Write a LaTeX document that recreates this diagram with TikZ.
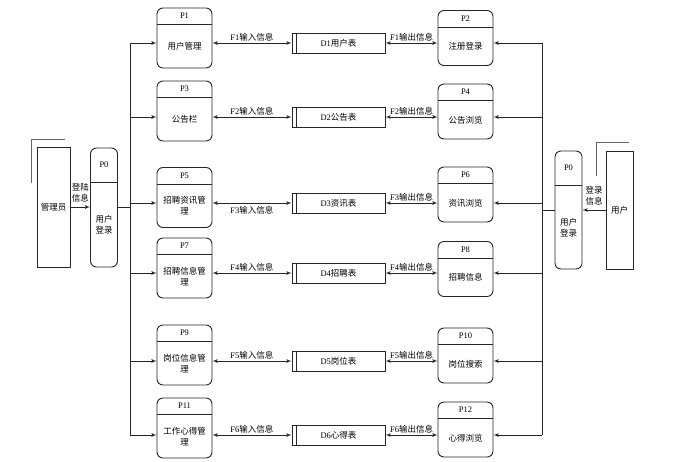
\documentclass[tikz,border=0pt]{standalone}
\usepackage{fontspec}
\setmainfont{Liberation Serif}
\newfontfamily\cjk{Noto Sans CJK SC}
\usetikzlibrary{arrows, positioning, calc}

\begin{document}
\begin{tikzpicture}[x=1pt, y=-1pt, >=latex', font=\fontsize{8.5}{11}\selectfont]
        \tikzstyle{proc_style} = [rectangle, rounded corners=6pt, minimum width=55pt, minimum height=60pt, draw=black!85, line width=0.9pt, inner sep=0pt]
        \tikzstyle{login_style} = [rectangle, rounded corners=6pt, minimum width=27pt, minimum height=119pt, draw=black!85, line width=0.9pt, inner sep=0pt]
        \tikzstyle{store_style} = [rectangle, minimum width=93pt, minimum height=20pt, draw=black!85, line width=1pt, inner sep=0pt, font=\fontsize{8.5}{11}\selectfont]
        \tikzstyle{ext_style} = [rectangle, minimum width=33pt, minimum height=120pt, draw=black!85, line width=0.9pt, inner sep=0pt, font=\fontsize{8.5}{11}\selectfont\cjk]
        \tikzstyle{text_style} = [inner sep=0pt, align=center, font=\fontsize{8.5}{11}\selectfont\cjk]
        \tikzstyle{title_style} = [inner sep=0pt]
        \tikzstyle{divider} = [draw=black!85, line width=0.9pt]
        \tikzstyle{shadow_line} = [draw=black!60, line width=1.6pt]
        \tikzstyle{flow} = [draw=black!85, line width=0.8pt]
        \tikzstyle{arrow_in} = [flow, ->]
        \tikzstyle{arrow_both} = [flow, <->]
        \tikzstyle{flow_label} = [inner sep=1pt]

        \useasboundingbox (0,0) rectangle (676,461);

        % External entities
        \node (admin) [ext_style] at (53.5,207) {管理员};
        \node (user) [ext_style, minimum width=27pt, minimum height=118pt] at (619.5,210) {用户};
        \draw [shadow_line] ([shift={(-5pt,-36pt)}]admin.north west) -- ++(0,-43) -- ++(33,0);
        \draw [shadow_line] ([shift={(-9pt,-25pt)}]user.north west) -- ++(0,-33) -- ++(32,0);

        % Login processes
        \node (p0l) [login_style] at (104,207.5) {};
        \draw [divider] ([yshift=-35pt]p0l.north west) -- ([yshift=-35pt]p0l.north east);
        \node (p0lt) [title_style] at ([yshift=-17.5pt]p0l.north) {P0};
        \node (p0lx) [text_style] at ([yshift=-17.5pt]p0l.center) {用户\\登录};

        \node (p0r) [login_style, minimum height=118pt] at (568.5,210) {};
        \draw [divider] ([yshift=-35pt]p0r.north west) -- ([yshift=-35pt]p0r.north east);
        \node (p0rt) [title_style] at ([yshift=-17.5pt]p0r.north) {P0};
        \node (p0rx) [text_style] at ([yshift=-17.5pt]p0r.center) {用户\\登录};

        \draw [arrow_in] (admin.east) -- node[above, text_style, inner sep=4pt] {登陆\\信息} (p0l.west |- admin.east);
        \draw [arrow_in] (user.west) -- node[above, text_style, inner sep=4pt] {登录\\信息} (p0r.east |- user.west);

        % Left processes
        \node (p1) [proc_style] at (184.5,38) {};
        \node (p3) [proc_style] at (184.5,111) {};
        \node (p5) [proc_style] at (184.5,197.5) {};
        \node (p7) [proc_style] at (184.5,268) {};
        \node (p9) [proc_style] at (184.5,355) {};
        \node (p11) [proc_style] at (184.5,428) {};
        \draw [divider] ([yshift=-17pt]p1.north west) -- ([yshift=-17pt]p1.north east);
        \draw [divider] ([yshift=-17pt]p3.north west) -- ([yshift=-17pt]p3.north east);
        \draw [divider] ([yshift=-17pt]p5.north west) -- ([yshift=-17pt]p5.north east);
        \draw [divider] ([yshift=-17pt]p7.north west) -- ([yshift=-17pt]p7.north east);
        \draw [divider] ([yshift=-17pt]p9.north west) -- ([yshift=-17pt]p9.north east);
        \draw [divider] ([yshift=-17pt]p11.north west) -- ([yshift=-17pt]p11.north east);
        \node (p1t) [title_style] at ([yshift=-8.5pt]p1.north) {P1};
        \node (p3t) [title_style] at ([yshift=-8.5pt]p3.north) {P3};
        \node (p5t) [title_style] at ([yshift=-8.5pt]p5.north) {P5};
        \node (p7t) [title_style] at ([yshift=-8.5pt]p7.north) {P7};
        \node (p9t) [title_style] at ([yshift=-8.5pt]p9.north) {P9};
        \node (p11t) [title_style] at ([yshift=-8.5pt]p11.north) {P11};
        \node (p1x) [text_style] at ([yshift=-8.5pt]p1.center) {用户管理};
        \node (p3x) [text_style] at ([yshift=-8.5pt]p3.center) {公告栏};
        \node (p5x) [text_style] at ([yshift=-8.5pt]p5.center) {招聘资讯管\\理};
        \node (p7x) [text_style] at ([yshift=-8.5pt]p7.center) {招聘信息管\\理};
        \node (p9x) [text_style] at ([yshift=-8.5pt]p9.center) {岗位信息管\\理};
        \node (p11x) [text_style] at ([yshift=-8.5pt]p11.center) {工作心得管\\理};

        % Right processes
        \node (p2) [proc_style, minimum height=55pt] at (465.5,38) {};
        \node (p4) [proc_style, minimum height=55pt] at (465.5,111.5) {};
        \node (p6) [proc_style, minimum height=55pt] at (465.5,194.5) {};
        \node (p8) [proc_style, minimum height=55pt] at (465.5,269) {};
        \node (p10) [proc_style, minimum height=55pt] at (465.5,355.5) {};
        \node (p12) [proc_style, minimum height=55pt] at (465.5,429.5) {};
        \draw [divider] ([yshift=-17pt]p2.north west) -- ([yshift=-17pt]p2.north east);
        \draw [divider] ([yshift=-17pt]p4.north west) -- ([yshift=-17pt]p4.north east);
        \draw [divider] ([yshift=-17pt]p6.north west) -- ([yshift=-17pt]p6.north east);
        \draw [divider] ([yshift=-17pt]p8.north west) -- ([yshift=-17pt]p8.north east);
        \draw [divider] ([yshift=-17pt]p10.north west) -- ([yshift=-17pt]p10.north east);
        \draw [divider] ([yshift=-17pt]p12.north west) -- ([yshift=-17pt]p12.north east);
        \node (p2t) [title_style] at ([yshift=-8.5pt]p2.north) {P2};
        \node (p4t) [title_style] at ([yshift=-8.5pt]p4.north) {P4};
        \node (p6t) [title_style] at ([yshift=-8.5pt]p6.north) {P6};
        \node (p8t) [title_style] at ([yshift=-8.5pt]p8.north) {P8};
        \node (p10t) [title_style] at ([yshift=-8.5pt]p10.north) {P10};
        \node (p12t) [title_style] at ([yshift=-8.5pt]p12.north) {P12};
        \node (p2x) [text_style] at ([yshift=-8.5pt]p2.center) {注册登录};
        \node (p4x) [text_style] at ([yshift=-8.5pt]p4.center) {公告浏览};
        \node (p6x) [text_style] at ([yshift=-8.5pt]p6.center) {资讯浏览};
        \node (p8x) [text_style] at ([yshift=-8.5pt]p8.center) {招聘信息};
        \node (p10x) [text_style] at ([yshift=-8.5pt]p10.center) {岗位搜索};
        \node (p12x) [text_style] at ([yshift=-8.5pt]p12.center) {心得浏览};

        % Data stores
        \node (d1) [store_style] at (338.5,43) {D1\cjk 用户表};
        \node (d2) [store_style] at (338.5,117) {D2\cjk 公告表};
        \node (d3) [store_style] at (338.5,203) {D3\cjk 资讯表};
        \node (d4) [store_style] at (338.5,273) {D4\cjk 招聘表};
        \node (d5) [store_style] at (338.5,361) {D5\cjk 岗位表};
        \node (d6) [store_style] at (338.5,435) {D6\cjk 心得表};
        \draw [divider] ([xshift=5pt]d1.north west) -- ([xshift=5pt]d1.south west);
        \draw [divider] ([xshift=5pt]d2.north west) -- ([xshift=5pt]d2.south west);
        \draw [divider] ([xshift=5pt]d3.north west) -- ([xshift=5pt]d3.south west);
        \draw [divider] ([xshift=5pt]d4.north west) -- ([xshift=5pt]d4.south west);
        \draw [divider] ([xshift=5pt]d5.north west) -- ([xshift=5pt]d5.south west);
        \draw [divider] ([xshift=5pt]d6.north west) -- ([xshift=5pt]d6.south west);

        % Trunk lines
        \coordinate (ltop) at (130,43);
        \coordinate (lbot) at (130,435);
        \coordinate (rtop) at (542,43);
        \coordinate (rbot) at (542,435);
        \draw [flow] (ltop) -- (lbot);
        \draw [flow] (rtop) -- (rbot);
        \draw [flow] (p0l.east) -- (p0l.east -| ltop);
        \draw [flow] (p0r.west) -- (p0r.west -| rtop);

        % Arrows: login to left processes
        \draw [arrow_in] (d1 -| ltop) -- (d1 -| p1.west);
        \draw [arrow_in] (d2 -| ltop) -- (d2 -| p3.west);
        \draw [arrow_in] (d3 -| ltop) -- (d3 -| p5.west);
        \draw [arrow_in] (d4 -| ltop) -- (d4 -| p7.west);
        \draw [arrow_in] (d5 -| ltop) -- (d5 -| p9.west);
        \draw [arrow_in] (d6 -| ltop) -- (d6 -| p11.west);

        % Arrows: login to right processes
        \draw [arrow_in] (d1 -| rtop) -- (d1 -| p2.east);
        \draw [arrow_in] (d2 -| rtop) -- (d2 -| p4.east);
        \draw [arrow_in] (d3 -| rtop) -- (d3 -| p6.east);
        \draw [arrow_in] (d4 -| rtop) -- (d4 -| p8.east);
        \draw [arrow_in] (d5 -| rtop) -- (d5 -| p10.east);
        \draw [arrow_in] (d6 -| rtop) -- (d6 -| p12.east);

        % Arrows: input flows
        \draw [arrow_both] (d1 -| p1.east) -- node[above, flow_label] {F1\cjk 输入信息} (d1.west);
        \draw [arrow_both] (d2 -| p3.east) -- node[above, flow_label] {F2\cjk 输入信息} (d2.west);
        \draw [arrow_both] (d3 -| p5.east) -- node[below, flow_label, inner sep=3pt] {F3\cjk 输入信息} (d3.west);
        \draw [arrow_both] (d4 -| p7.east) -- node[above, flow_label] {F4\cjk 输入信息} (d4.west);
        \draw [arrow_both] (d5 -| p9.east) -- node[above, flow_label] {F5\cjk 输入信息} (d5.west);
        \draw [arrow_both] (d6 -| p11.east) -- node[above, flow_label] {F6\cjk 输入信息} (d6.west);

        % Arrows: output flows
        \draw [arrow_both] (d1.east) -- node[above, flow_label] {F1\cjk 输出信息} (d1 -| p2.west);
        \draw [arrow_both] (d2.east) -- node[above, flow_label] {F2\cjk 输出信息} (d2 -| p4.west);
        \draw [arrow_both] (d3.east) -- node[above, flow_label] {F3\cjk 输出信息} (d3 -| p6.west);
        \draw [arrow_both] (d4.east) -- node[above, flow_label] {F4\cjk 输出信息} (d4 -| p8.west);
        \draw [arrow_both] (d5.east) -- node[above, flow_label] {F5\cjk 输出信息} (d5 -| p10.west);
        \draw [arrow_both] (d6.east) -- node[above, flow_label] {F6\cjk 输出信息} (d6 -| p12.west);
    \end{tikzpicture}
\end{document}
